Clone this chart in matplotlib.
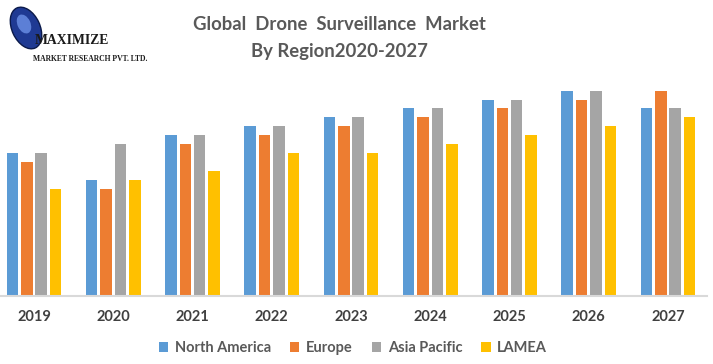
import matplotlib
matplotlib.use("Agg")
import matplotlib.pyplot as plt
import numpy as np
from matplotlib.patches import Ellipse

years = ["2019", "2020", "2021", "2022", "2023", "2024", "2025", "2026", "2027"]
series_names = ["North America", "Europe", "Asia Pacific", "LAMEA"]
north_america = [16, 13, 18, 19, 20, 21, 22, 23, 21]
europe = [15, 12, 17, 18, 19, 20, 21, 22, 23]
asia_pacific = [16, 17, 18, 19, 20, 21, 22, 23, 21]
lamea = [12, 13, 14, 16, 16, 17, 18, 19, 20]
colors = ["#5B9BD5", "#ED7D31", "#A5A5A5", "#FFC000"]

W, H = 713, 364
fig = plt.figure(figsize=(W / 100, H / 100), dpi=100)

# axes: baseline at y=296px, top at 70px; x from 0 to 707px
ax = fig.add_axes([0, (H - 296) / H, 707 / W, (296 - 70) / H])
x = np.arange(len(years))
bw = 0.145
step = 0.181
data = [north_america, europe, asia_pacific, lamea]
for i, (vals, c, n) in enumerate(zip(data, colors, series_names)):
    ax.bar(x + (i - 1.5) * step, vals, width=bw, color=c, label=n, zorder=2)

ax.set_xlim(-34 / 79.25, (707 - 34) / 79.25)
ax.set_ylim(0, 226 / 8.93)
for s in ["top", "right", "left"]:
    ax.spines[s].set_visible(False)
ax.spines["bottom"].set_color("#D9D9D9")
ax.spines["bottom"].set_linewidth(1.5)
ax.set_yticks([])
ax.set_xticks(x)
ax.set_xticklabels(years, fontsize=10.5, fontweight="bold", color="#404040", family="Lato")
ax.tick_params(axis="x", length=0, pad=10)

# Title
fig.text(339 / W, 1 - 25 / H, "Global  Drone  Surveillance  Market", ha="center", va="center",
         fontsize=13.3, fontweight="bold", color="#595959", family="Lato")
fig.text(339 / W, 1 - 51 / H, "By Region2020-2027", ha="center", va="center",
         fontsize=13.3, fontweight="bold", color="#595959", family="Lato")

# Legend
leg = fig.legend(loc="center", bbox_to_anchor=(353 / W, 1 - 348 / H), ncol=4, frameon=False,
                 handlelength=0.65, handleheight=0.65, handletextpad=0.45, columnspacing=1.3,
                 prop={"family": "Lato", "weight": "bold", "size": 10.5})
for t in leg.get_texts():
    t.set_color("#595959")

# Logo
lax = fig.add_axes([0, 0, 1, 1], facecolor="none")
lax.set_xlim(0, W)
lax.set_ylim(H, 0)
lax.axis("off")
lax.add_patch(Ellipse((26, 28), 28, 44, angle=-25, facecolor="#1F3A93", edgecolor="#0B1A4A", lw=1))
lax.add_patch(Ellipse((24, 24), 13, 20, angle=-25, facecolor="#5C7FD6", edgecolor="none"))
lax.text(35, 41, "MAXIMIZE", fontsize=9.8, family="Liberation Serif", fontweight="bold",
         color="#1a1a1a", va="center", ha="left")
lax.text(33, 59, "MARKET RESEARCH PVT. LTD.", fontsize=5.5, family="Liberation Serif",
         fontweight="bold", color="#1a1a1a", va="center", ha="left")

fig.savefig("out.png", dpi=100)
